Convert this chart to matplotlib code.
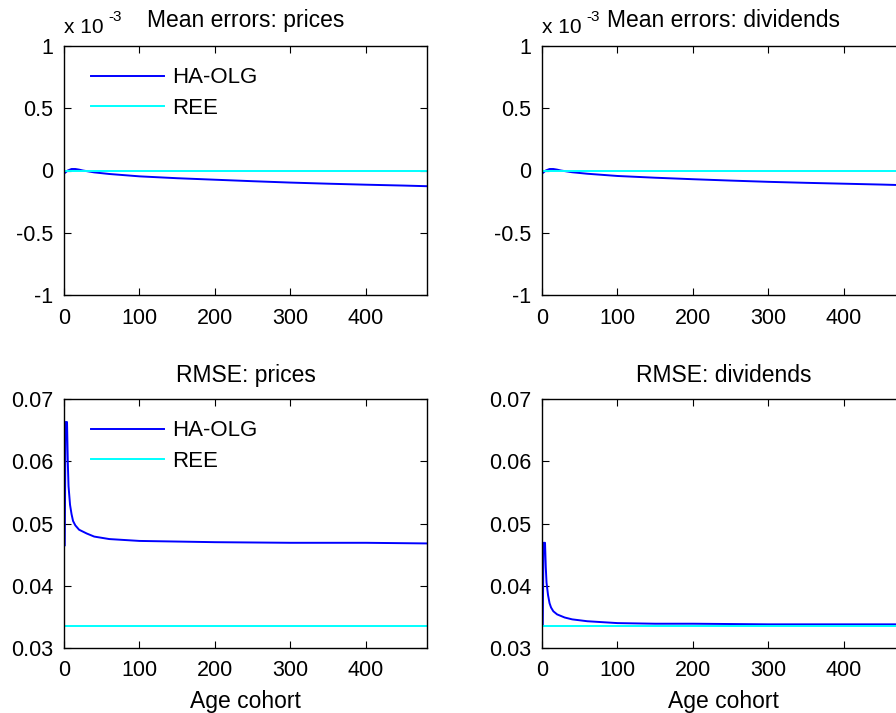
import matplotlib
matplotlib.use("Agg")
import matplotlib.pyplot as plt

plt.rcParams['font.family'] = ['Liberation Sans', 'DejaVu Sans']
plt.rcParams['font.size'] = 15.5

# Age cohort sample points
age_mean = [1, 5, 10, 15, 20, 25, 40, 60, 100, 150, 200, 250, 300, 350, 400, 450, 480]
# Mean errors, in units of 1e-3
mean_prices_haolg = [-0.02, 0.00, 0.012, 0.012, 0.007, 0.0, -0.015, -0.028, -0.047, -0.062,
                     -0.074, -0.086, -0.097, -0.106, -0.114, -0.121, -0.126]
mean_divs_haolg = [-0.02, 0.00, 0.012, 0.012, 0.007, 0.0, -0.014, -0.026, -0.044, -0.058,
                   -0.070, -0.081, -0.091, -0.099, -0.106, -0.113, -0.118]
mean_ree = [0.0, 0.0]
age_ree = [0, 480]

age_rmse = [1, 2, 4, 5, 6, 8, 10, 12, 15, 20, 30, 40, 60, 100, 150, 200, 300, 400, 480]
rmse_prices_haolg = [0.0465, 0.0663, 0.0663, 0.0600, 0.0560, 0.0530, 0.0515, 0.0504, 0.0497,
                     0.0490, 0.0484, 0.0479, 0.0475, 0.0472, 0.0471, 0.0470, 0.0469, 0.0469, 0.0468]
rmse_divs_haolg = [0.0337, 0.0469, 0.0469, 0.0430, 0.0405, 0.0385, 0.0372, 0.0365, 0.0359,
                   0.0354, 0.0349, 0.0346, 0.0343, 0.0340, 0.0339, 0.0339, 0.0338, 0.0338, 0.0338]
rmse_prices_ree = [0.0336, 0.0336]
rmse_divs_ree = [0.0336, 0.0336]

blue = '#0000ff'
cyan = '#00ffff'

fig = plt.figure(figsize=(8.96, 7.13), dpi=100)
w, h = 363 / 896, 249 / 713
ax_mp = fig.add_axes([64 / 896, 1 - 295 / 713, w, h])
ax_md = fig.add_axes([542 / 896, 1 - 295 / 713, w, h])
ax_rp = fig.add_axes([64 / 896, 1 - 648 / 713, w, h])
ax_rd = fig.add_axes([542 / 896, 1 - 648 / 713, w, h])


def style(ax):
    ax.set_xlim(0, 481)
    ax.set_xticks([0, 100, 200, 300, 400])
    ax.tick_params(direction='in', top=True, right=True, length=5, width=0.8)
    ax.tick_params(axis='x', pad=9)
    ax.tick_params(axis='y', pad=8)
    for s in ax.spines.values():
        s.set_linewidth(1.0)


for ax, y, title in [(ax_mp, mean_prices_haolg, 'Mean errors: prices'),
                     (ax_md, mean_divs_haolg, 'Mean errors: dividends')]:
    ax.plot(age_mean, y, color=blue, lw=1.4, label='HA-OLG')
    ax.plot(age_ree, mean_ree, color=cyan, lw=1.4, label='REE')
    ax.set_ylim(-1, 1)
    ax.set_yticks([-1, -0.5, 0, 0.5, 1])
    ax.set_yticklabels(['-1', '-0.5', '0', '0.5', '1'])
    ax.set_title(title, pad=13.5, fontsize=16.5)
    ax.text(0.0, 1.035, 'x 10', transform=ax.transAxes, ha='left', va='bottom', fontsize=15)
    ax.text(0.122, 1.09, '-3', transform=ax.transAxes, ha='left', va='bottom', fontsize=11)
    style(ax)

for ax, y, yr, title in [(ax_rp, rmse_prices_haolg, rmse_prices_ree, 'RMSE: prices'),
                         (ax_rd, rmse_divs_haolg, rmse_divs_ree, 'RMSE: dividends')]:
    ax.plot(age_rmse, y, color=blue, lw=1.4, label='HA-OLG')
    ax.plot(age_ree, yr, color=cyan, lw=1.4, label='REE')
    ax.set_ylim(0.03, 0.07)
    ax.set_yticks([0.03, 0.04, 0.05, 0.06, 0.07])
    ax.set_yticklabels(['0.03', '0.04', '0.05', '0.06', '0.07'])
    ax.set_title(title, pad=12, fontsize=16.5)
    ax.set_xlabel('Age cohort', labelpad=6, fontsize=16.5)
    style(ax)

for ax in (ax_mp, ax_rp):
    ax.legend(loc='upper left', bbox_to_anchor=(0.05, 0.95), frameon=False, fontsize=16,
              handlelength=3.3, handletextpad=0.35, labelspacing=0.42, borderaxespad=0)

fig.savefig('out.png', dpi=100)
